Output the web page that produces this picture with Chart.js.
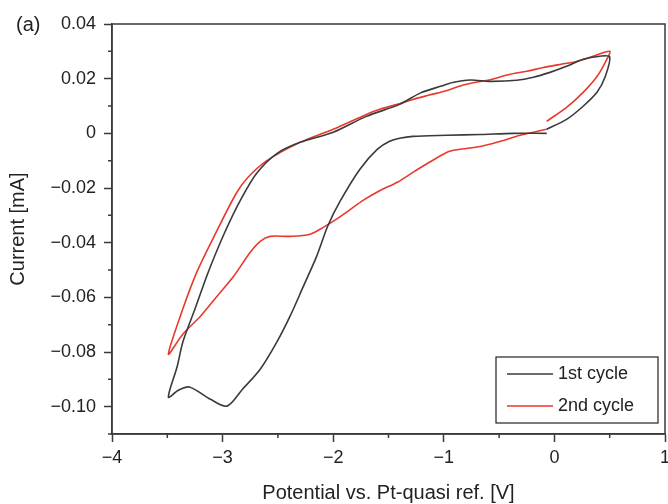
<!DOCTYPE html>
<html>
<head>
<meta charset="utf-8">
<script src="https://cdn.jsdelivr.net/npm/chart.js@4.4.0/dist/chart.umd.min.js"></script>
<style>
  html, body { margin: 0; padding: 0; background: #fff; }
  #wrap { width: 668px; height: 504px; position: relative; }
</style>
</head>
<body>
<div id="wrap"><canvas id="cv" width="668" height="504"></canvas></div>
<script>
// 1st cycle, in scan order: potential [V] and current [mA]
const cycle1Potential = [-0.07, -0.37, -0.67, -0.97, -1.28, -1.40, -1.49, -1.60, -1.76, -1.94, -2.05, -2.15, -2.27, -2.39, -2.51, -2.66, -2.82, -2.96, -3.11, -3.30, -3.40, -3.49,
  -3.41, -3.36, -3.25, -3.13, -2.98, -2.83, -2.69, -2.51, -2.30, -2.00, -1.70, -1.40, -1.21, -1.03, -0.92, -0.76, -0.58, -0.34, -0.19, -0.04, 0.11, 0.26, 0.41, 0.50,
  0.46, 0.385, 0.26, 0.11, -0.07];
const cycle1Current = [0.0000, 0.0000, -0.0004, -0.0007, -0.0011, -0.0018, -0.0029, -0.0058, -0.0132, -0.0250, -0.0340, -0.0450, -0.0560, -0.0669, -0.0764, -0.0863, -0.0936, -0.0998, -0.0973, -0.0928, -0.0940, -0.0965,
  -0.0852, -0.0764, -0.0643, -0.0508, -0.0362, -0.0238, -0.0145, -0.0074, -0.0033, 0.0004, 0.0062, 0.0106, 0.0148, 0.0172, 0.0186, 0.0195, 0.0190, 0.0194, 0.0205, 0.0223, 0.0245, 0.0271, 0.0282, 0.0280,
  0.0208, 0.0150, 0.0099, 0.0051, 0.0015];

// 2nd cycle
const cycle2Potential = [-0.07, 0.11, 0.26, 0.385, 0.46, 0.50,
  0.35, 0.20, 0.05, -0.10, -0.25, -0.40, -0.58, -0.67, -0.83, -0.97, -1.13, -1.28, -1.42, -1.58, -1.70, -2.00, -2.30, -2.60, -2.78, -2.88, -3.05, -3.23, -3.36, -3.49,
  -3.36, -3.20, -3.05, -2.90, -2.75, -2.66, -2.57, -2.39, -2.21, -2.09, -1.97, -1.85, -1.73, -1.58, -1.42, -1.28, -1.13, -0.97, -0.88, -0.67, -0.52, -0.31, -0.16, -0.07];
const cycle2Current = [0.0044, 0.0095, 0.0150, 0.0208, 0.0260, 0.0300,
  0.0282, 0.0263, 0.0252, 0.0241, 0.0227, 0.0216, 0.0196, 0.0190, 0.0176, 0.0157, 0.0140, 0.0124, 0.0106, 0.0088, 0.0069, 0.0015, -0.0033, -0.0100, -0.0165, -0.0222, -0.0355, -0.0505, -0.0643, -0.0808,
  -0.0735, -0.0669, -0.0596, -0.0523, -0.0435, -0.0395, -0.0377, -0.0377, -0.0369, -0.0344, -0.0314, -0.0280, -0.0245, -0.0210, -0.0179, -0.0143, -0.0106, -0.0069, -0.0060, -0.0048, -0.0033, -0.0007, 0.0007, 0.0015];

const seriesLabels = ['1st cycle', '2nd cycle'];
const seriesColors = ['#3a3a3a', '#e8392c'];

const xMin = -4, xMax = 1, xStep = 0.5;
const yMin = -0.11, yMax = 0.04, yStep = 0.01;

const axisColor = '#3a3a3a';
const fontFamily = '"Liberation Sans", Arial, Helvetica, sans-serif';

function toPoints(xs, ys) {
    return xs.map((x, i) => ({ x: x, y: ys[i] }));
}

function fmtNum(v, digits) {
    if (Math.abs(v) < 1e-9) return '0';
    const s = Math.abs(v).toFixed(digits);
    return v < 0 ? '\u2212' + s : s;
}

function isMajorX(v) { return Math.abs(v - Math.round(v)) < 1e-6; }
function isMajorY(v) { return Math.round(v * 100) % 2 === 0; }

// short minor ticks, frame round the plot, panel mark, legend box
const decorations = {
    id: 'decorations',
    afterDraw(chart) {
        const ctx = chart.ctx;
        const area = chart.chartArea;
        const xs = chart.scales.x, ys = chart.scales.y;
        ctx.save();
        ctx.strokeStyle = axisColor;
        ctx.lineWidth = 1.5;
        ctx.beginPath();
        xs.ticks.forEach(t => {
            if (!isMajorX(t.value)) {
                const px = xs.getPixelForValue(t.value);
                ctx.moveTo(px, area.bottom);
                ctx.lineTo(px, area.bottom + 4);
            }
        });
        ys.ticks.forEach(t => {
            if (!isMajorY(t.value)) {
                const py = ys.getPixelForValue(t.value);
                ctx.moveTo(area.left, py);
                ctx.lineTo(area.left - 4, py);
            }
        });
        ctx.stroke();
        ctx.strokeRect(area.left, area.top, area.right - area.left, area.bottom - area.top);

        ctx.fillStyle = '#222';
        ctx.font = '20px ' + fontFamily;
        ctx.textBaseline = 'middle';
        ctx.textAlign = 'left';
        ctx.fillText('(a)', 16, 25);

        // legend
        ctx.font = '18px ' + fontFamily;
        const bx = 496, by = 357, bw = 162, bh = 66;
        ctx.fillStyle = '#fff';
        ctx.fillRect(bx, by, bw, bh);
        ctx.lineWidth = 1.2;
        ctx.strokeStyle = '#222';
        ctx.strokeRect(bx, by, bw, bh);
        chart.data.datasets.forEach((ds, i) => {
            const ly = by + 17 + i * 32;
            ctx.strokeStyle = ds.borderColor;
            ctx.lineWidth = 1.6;
            ctx.beginPath();
            ctx.moveTo(bx + 11, ly);
            ctx.lineTo(bx + 57, ly);
            ctx.stroke();
            ctx.fillStyle = '#222';
            ctx.fillText(ds.label, bx + 62, ly);
        });
        ctx.restore();
    }
};

const ctx = document.getElementById('cv').getContext('2d');
new Chart(ctx, {
    type: 'scatter',
    data: {
        datasets: [
            {
                label: seriesLabels[0],
                data: toPoints(cycle1Potential, cycle1Current),
                borderColor: seriesColors[0],
                backgroundColor: seriesColors[0],
                showLine: true,
                pointRadius: 0,
                borderWidth: 1.6,
                tension: 0.3
            },
            {
                label: seriesLabels[1],
                data: toPoints(cycle2Potential, cycle2Current),
                borderColor: seriesColors[1],
                backgroundColor: seriesColors[1],
                showLine: true,
                pointRadius: 0,
                borderWidth: 1.6,
                tension: 0.3
            }
        ]
    },
    options: {
        responsive: false,
        animation: false,
        layout: { padding: { left: 0, right: 3, top: 24, bottom: 0 } },
        plugins: {
            legend: { display: false },
            tooltip: { enabled: false }
        },
        scales: {
            x: {
                type: 'linear',
                min: xMin,
                max: xMax,
                afterFit: s => { s.height = 70; s.paddingLeft = 0; s.paddingRight = 0; },
                border: { color: axisColor, width: 1.5 },
                grid: {
                    drawOnChartArea: false,
                    tickLength: 8,
                    tickWidth: 1.5,
                    tickColor: c => isMajorX(c.tick.value) ? axisColor : 'rgba(0,0,0,0)'
                },
                ticks: {
                    stepSize: xStep,
                    autoSkip: false,
                    maxRotation: 0,
                    padding: 5,
                    color: '#222',
                    font: { family: fontFamily, size: 18 },
                    callback: v => isMajorX(v) ? fmtNum(v, 0) : ''
                },
                title: {
                    display: true,
                    text: 'Potential vs. Pt-quasi ref. [V]',
                    color: '#222',
                    font: { family: fontFamily, size: 20, lineHeight: 1.0 },
                    padding: { top: 0, bottom: 1 }
                }
            },
            y: {
                type: 'linear',
                min: yMin,
                max: yMax,
                afterFit: s => { s.width = 112; },
                border: { color: axisColor, width: 1.5 },
                grid: {
                    drawOnChartArea: false,
                    tickLength: 8,
                    tickWidth: 1.5,
                    tickColor: c => isMajorY(c.tick.value) ? axisColor : 'rgba(0,0,0,0)'
                },
                ticks: {
                    stepSize: yStep,
                    autoSkip: false,
                    padding: 8,
                    color: '#222',
                    font: { family: fontFamily, size: 18 },
                    callback: v => isMajorY(v) ? fmtNum(v, 2) : ''
                },
                title: {
                    display: true,
                    text: 'Current [mA]',
                    color: '#222',
                    font: { family: fontFamily, size: 20 },
                    padding: { top: 6, bottom: 0 }
                }
            }
        }
    },
    plugins: [decorations]
});
</script>
</body>
</html>
